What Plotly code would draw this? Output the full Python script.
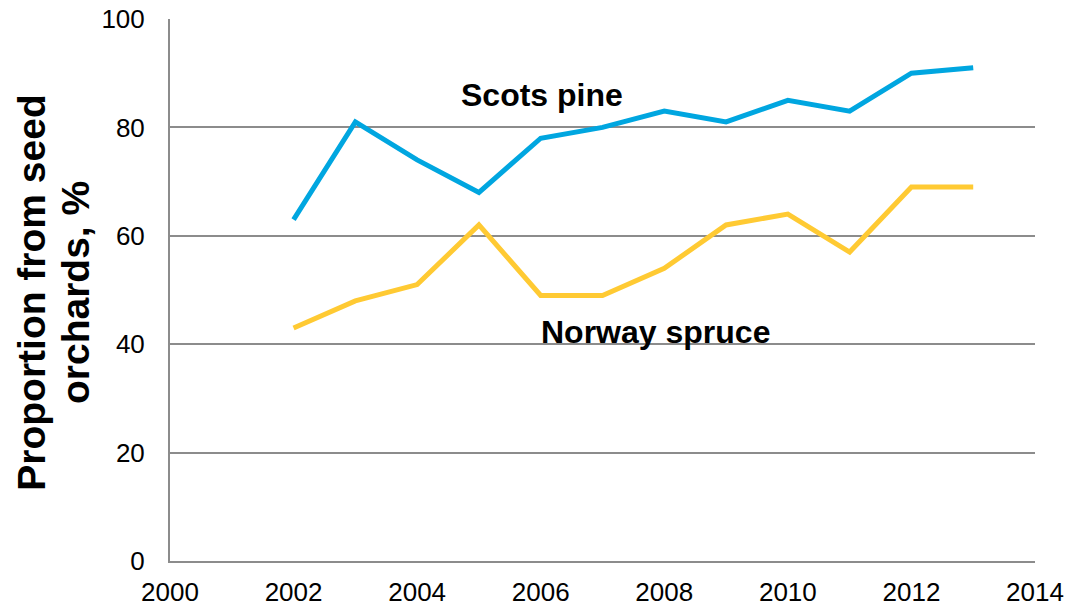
import plotly.graph_objects as go

years = list(range(2002, 2014))
scots_pine = [63, 81, 74, 68, 78, 80, 83, 81, 85, 83, 90, 91]
norway_spruce = [43, 48, 51, 62, 49, 49, 54, 62, 64, 57, 69, 69]

x_ticks = [2000, 2002, 2004, 2006, 2008, 2010, 2012, 2014]
y_ticks = [0, 20, 40, 60, 80, 100]

FONT = "Liberation Sans, Arial, sans-serif"
GRID = "#8c8c8c"

fig = go.Figure()
fig.add_trace(go.Scatter(x=years, y=scots_pine, mode="lines", name="Scots pine",
                         line=dict(color="#00A6E0", width=5)))
fig.add_trace(go.Scatter(x=years, y=norway_spruce, mode="lines", name="Norway spruce",
                         line=dict(color="#FFCA33", width=5)))

# series labels placed inside the plot
fig.add_annotation(x=2006.02, y=86.0, text="<b>Scots pine</b>", showarrow=False,
                   font=dict(family=FONT, size=32, color="black"))
fig.add_annotation(x=2007.85, y=42.2, text="<b>Norway spruce</b>", showarrow=False,
                   font=dict(family=FONT, size=32, color="black"))

# two-line rotated y-axis title, one annotation per line
title_lines = ["Proportion from seed", "orchards, %"]
title_x = [-0.160, -0.110]
for line, xp in zip(title_lines, title_x):
    fig.add_annotation(xref="paper", yref="paper", x=xp, y=0.496,
                       xanchor="center", yanchor="middle",
                       text=f"<b>{line}</b>", showarrow=False, textangle=-90,
                       font=dict(family=FONT, size=39, color="black"))

fig.update_layout(
    width=1068, height=607,
    margin=dict(l=170, r=33, t=19, b=46),
    paper_bgcolor="white", plot_bgcolor="white",
    showlegend=False,
    font=dict(family=FONT, color="black"),
)
fig.update_xaxes(range=[2000, 2014], tickvals=x_ticks, ticktext=[str(v) for v in x_ticks],
                 showgrid=False, showline=True, linecolor=GRID, linewidth=2,
                 ticks="", tickfont=dict(size=26, color="black"), zeroline=False,
                 ticklabelstandoff=7, automargin=False)
fig.update_yaxes(range=[0, 100], tickvals=y_ticks, showgrid=True, gridcolor=GRID, gridwidth=1.5,
                 showline=True, linecolor=GRID, linewidth=2, ticks="",
                 tickfont=dict(size=26, color="black"), zeroline=False,
                 ticklabelstandoff=18, automargin=False)

fig.write_html("out.html")
